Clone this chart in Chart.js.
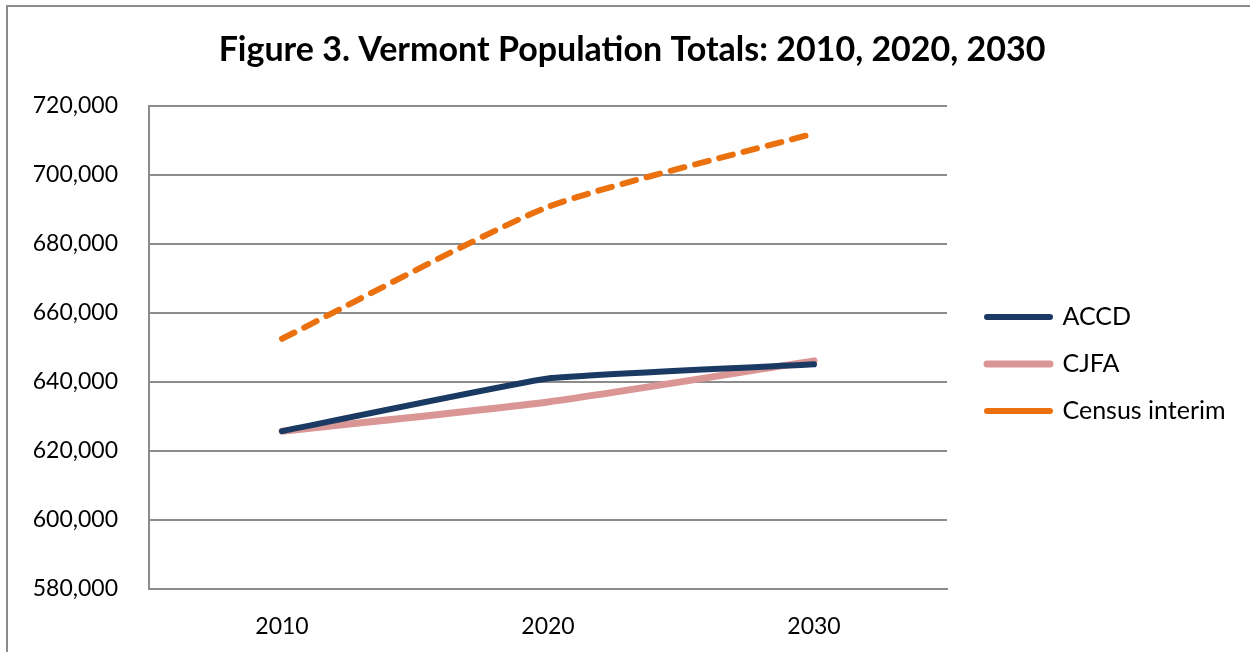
<!DOCTYPE html>
<html>
<head>
<meta charset="utf-8">
<style>
  html, body { margin: 0; padding: 0; background: #fff; }
  #wrap { position: relative; width: 1250px; height: 652px; overflow: hidden; }
  #frame { position: absolute; left: 6px; top: 5px; width: 1260px; height: 700px;
           border-left: 2px solid #8c8c8c; border-top: 2px solid #8c8c8c; box-sizing: border-box; }
  canvas { position: absolute; left: 0; top: 0; }
</style>
<script src="https://cdn.jsdelivr.net/npm/chart.js@4/dist/chart.umd.min.js"></script>
</head>
<body>
<div id="wrap">
  <div id="frame"></div>
  <canvas id="c" width="1250" height="652"></canvas>
</div>
<script>
// Vermont population totals by projection source
const years = ['2010', '2020', '2030'];
const accd = [625741, 641000, 645100];
const cjfa = [625741, 634200, 646100];
const censusInterim = [652500, 690700, 712000];

const yMin = 580000, yMax = 720000, yStep = 20000;
const FONT = 'Lato';

// Fixes the legend column width and nudges it into place
const legendPlacement = {
  id: 'legendPlacement',
  beforeLayout(chart) {
    const lg = chart.legend;
    if (lg && !lg._fixedFit) {
      const fit = lg.fit;
      lg.fit = function () { fit.call(this); this.width = 303; };
      lg._fixedFit = true;
    }
  },
  afterLayout(chart) {
    const lg = chart.legend;
    if (!lg) return;
    lg.left += 18; lg.right += 18;
    lg.top += 28; lg.bottom += 28;
  }
};

new Chart(document.getElementById('c'), {
  type: 'line',
  data: {
    labels: years,
    datasets: [
      { label: 'ACCD', data: accd, borderColor: '#1b3a63', backgroundColor: '#1b3a63',
        borderWidth: 6, tension: 0.1, pointRadius: 0, borderCapStyle: 'round', borderJoinStyle: 'round' },
      { label: 'CJFA', data: cjfa, borderColor: '#da9694', backgroundColor: '#da9694',
        borderWidth: 7, tension: 0.2, pointRadius: 0, borderCapStyle: 'round', borderJoinStyle: 'round' },
      { label: 'Census interim', data: censusInterim, borderColor: '#eb710f', backgroundColor: '#eb710f',
        borderWidth: 6, borderDash: [14, 11], tension: 0.2, pointRadius: 0, borderCapStyle: 'round' }
    ]
  },
  options: {
    responsive: false,
    animation: false,
    devicePixelRatio: 1,
    layout: { padding: { left: 14, right: 0, top: 20, bottom: 0 } },
    plugins: {
      title: {
        display: true,
        text: 'Figure 3. Vermont Population Totals: 2010, 2020, 2030',
        color: '#000',
        font: { family: FONT, size: 34, weight: 'bold' },
        padding: { top: 10, bottom: 35 }
      },
      legend: {
        position: 'right',
        labels: {
          color: '#000',
          font: { family: FONT, size: 25 },
          boxWidth: 63,
          boxHeight: 0,
          padding: 22,
          generateLabels(chart) {
            return chart.data.datasets.map((ds, i) => ({
              text: ds.label,
              fillStyle: 'rgba(0,0,0,0)',
              strokeStyle: ds.borderColor,
              lineWidth: ds.borderWidth,
              lineDash: ds.borderDash || [],
              lineCap: 'round',
              lineJoin: 'round',
              hidden: false,
              datasetIndex: i,
              fontColor: '#000'
            }));
          }
        }
      },
      tooltip: { enabled: false }
    },
    scales: {
      x: {
        offset: true,
        grid: { display: false, drawTicks: false },
        border: { display: true, color: '#8c8c8c', width: 2 },
        ticks: { color: '#000', font: { family: FONT, size: 23 }, padding: 24 },
        afterFit(scale) { scale.height = 63; }
      },
      y: {
        min: yMin, max: yMax,
        grid: { color: '#8c8c8c', lineWidth: 2, drawTicks: false },
        border: { display: true, color: '#8c8c8c', width: 2 },
        ticks: {
          stepSize: yStep, color: '#000', font: { family: FONT, size: 23 }, padding: 31,
          callback: v => v.toLocaleString('en-US')
        },
        afterFit(scale) { scale.width = 135; }
      }
    }
  },
  plugins: [legendPlacement]
});
</script>
</body>
</html>
